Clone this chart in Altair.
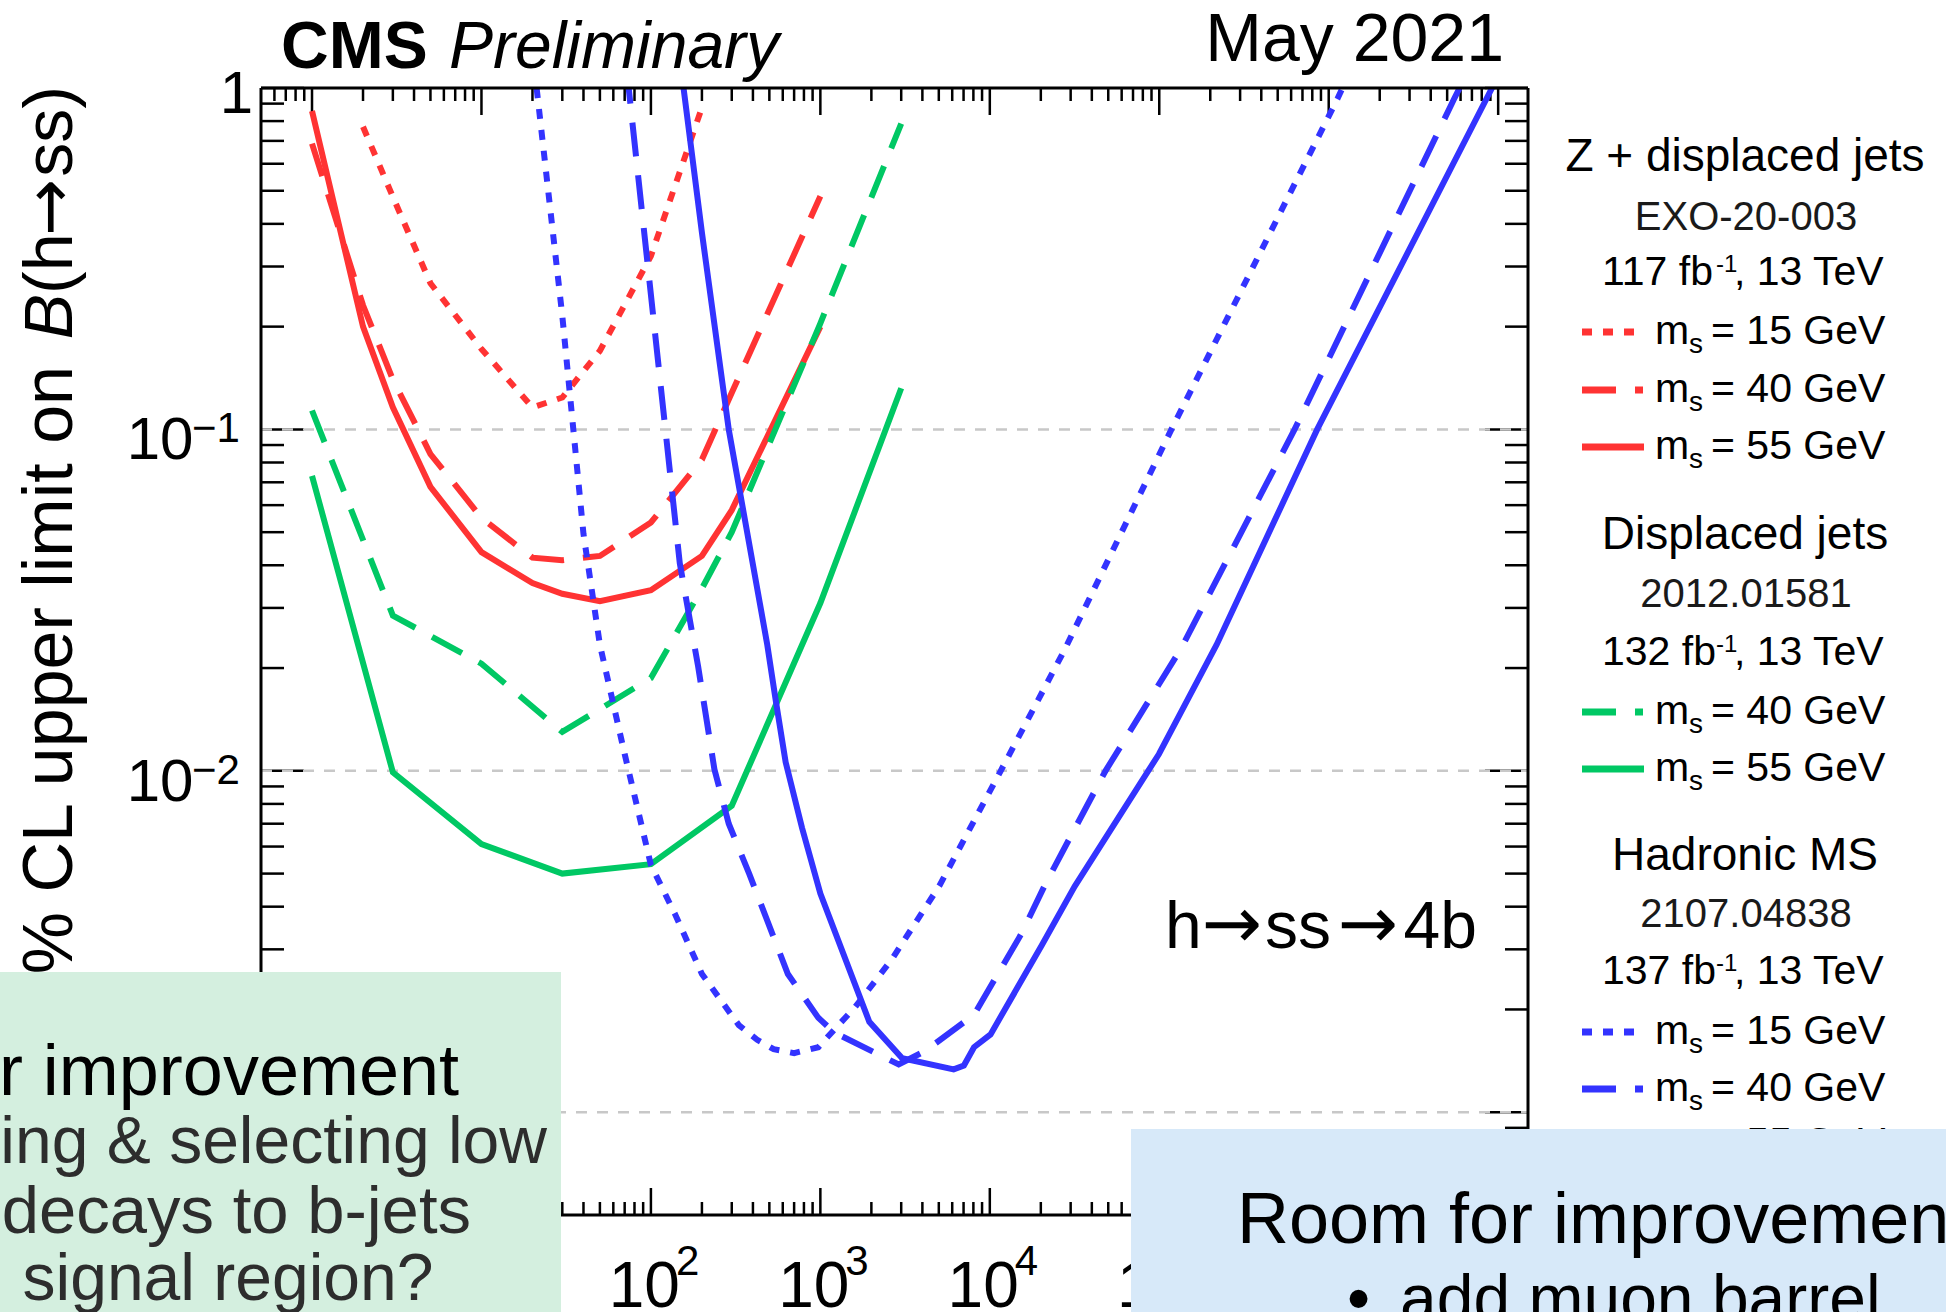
import altair as alt
import pandas as pd

# ---------------------------------------------------------------------------
# Expected 95% CL upper limits on B(h->ss) vs c*tau [mm], h->ss->4b
# ---------------------------------------------------------------------------

# Z + displaced jets (EXO-20-003)
zdj_m15_ctau = [2, 3, 5, 10, 20, 30, 50, 100, 200]
zdj_m15_lim = [0.77, 0.48, 0.268, 0.172, 0.116, 0.124, 0.170, 0.322, 0.877]
zdj_m40_ctau = [1, 2, 3, 5, 10, 20, 30, 50, 100, 200, 300, 1000]
zdj_m40_lim = [0.687, 0.231, 0.140, 0.0847, 0.0551, 0.0421, 0.0414, 0.0426, 0.0534, 0.0816, 0.128, 0.482]
zdj_m55_ctau = [1, 2, 3, 5, 10, 20, 30, 50, 100, 200, 300, 1000]
zdj_m55_lim = [0.856, 0.200, 0.116, 0.0679, 0.0437, 0.0355, 0.0330, 0.0314, 0.0338, 0.0426, 0.058, 0.200]

# Displaced jets (2012.01581)
dj_m40_ctau = [1, 3, 10, 30, 100, 200, 300, 1000, 3000]
dj_m40_lim = [0.1136, 0.0285, 0.0206, 0.0130, 0.0187, 0.0342, 0.050, 0.2045, 0.786]
dj_m55_ctau = [1, 3, 10, 30, 100, 300, 1000, 3000]
dj_m55_lim = [0.0731, 0.0099, 0.0061, 0.0050, 0.00533, 0.0079, 0.031, 0.132]

# Hadronic MS (2107.04838)
hms_m15_ctau = [20.5, 30, 40, 50, 70, 100, 140, 200, 330, 424, 530, 700, 973, 1214, 1601,
                2634, 5035, 11600, 27600, 118000, 1130000, 1250000]
hms_m15_lim = [1.15, 0.215, 0.0494, 0.0234, 0.0112, 0.0053, 0.00377, 0.00254, 0.0018, 0.00163,
               0.00153, 0.00149, 0.00155, 0.00175, 0.00203, 0.0028, 0.0046, 0.0100, 0.0226,
               0.100, 0.933, 1.04]
hms_m40_ctau = [72, 148, 190, 237, 288, 380, 643, 973, 1214, 2900, 4140, 8070, 15350, 21460,
                48200, 135000, 629000, 5500000, 6100000]
hms_m40_lim = [1.13, 0.0406, 0.0202, 0.0101, 0.0070, 0.0050, 0.00254, 0.00189, 0.00171, 0.00138,
               0.00151, 0.00193, 0.00333, 0.0047, 0.0100, 0.0229, 0.100, 0.93, 1.03]
hms_m55_ctau = [150, 200, 288, 486, 544, 624, 780, 1000, 1945, 3040, 6120, 7030, 8070, 10100,
                20300, 31700, 99600, 218000, 855000, 9200000, 9800000]
hms_m55_lim = [1.16, 0.377, 0.100, 0.0234, 0.0162, 0.0106, 0.0068, 0.00437, 0.00184, 0.00144,
               0.001335, 0.00137, 0.00155, 0.00169, 0.00309, 0.00459, 0.0112, 0.0234, 0.100,
               1.0, 1.06]

# axis ticks and labels
x_major = [1, 10, 100, 1e3, 1e4, 1e5, 1e6, 1e7]
x_major_sup = ["0", "1", "2", "3", "4", "5", "6", "7"]
x_minor = [k * 10.0 ** e for e in range(-1, 8) for k in range(2, 10) if 0.5 < k * 10.0 ** e < 1.5e7]
y_major = [0.1, 0.01, 0.001]
y_major_sup = ["\u22121", "\u22122", "\u22123"]
y_minor = [k * 10.0 ** e for e in range(-4, 0) for k in range(2, 10) if 5e-4 < k * 10.0 ** e < 1]

# ---------------------------------------------------------------------------
# page geometry: plot frame sits at (261, 88) with size W x H on a 1946x1312 page
# ---------------------------------------------------------------------------
PL, PT = 261, 88
W, H = 1267, 1127
PR, PB = 1946 - PL - W, 1312 - PT - H


def px(X):
    return X - PL


def py(Y):
    return Y - PT


FONT = "Liberation Sans"
ARROW_FONT = "DejaVu Sans"
RARROW = "\u2192"
RED, GREEN, BLUE = "#ff3333", "#00c864", "#3333ff"
DOT = [10, 11]
DASH = [34, 19]
GRID = "#c8c8c8"

xs = alt.Scale(type="log", domain=[0.5, 1.5e7], nice=False)
ys = alt.Scale(type="log", domain=[5e-4, 1], nice=False)
ONE = pd.DataFrame({"k": [0]})

layers = []


def text(s, X, Y, size, align="left", color="black", weight="normal", style="normal",
         angle=0, font=FONT):
    kw = dict(text=s, align=align, baseline="alphabetic", font=font, fontSize=size,
              color=color, fontWeight=weight, fontStyle=style)
    if angle:
        kw["angle"] = angle
    return alt.Chart(ONE).mark_text(**kw).encode(x=alt.value(px(X)), y=alt.value(py(Y)))


def hseg(X1, X2, Y, color, width, dash=None):
    kw = dict(color=color, strokeWidth=width)
    if dash:
        kw["strokeDash"] = dash
    return alt.Chart(ONE).mark_rule(**kw).encode(
        x=alt.value(px(X1)), x2=alt.value(px(X2)), y=alt.value(py(Y)))


def rect(X1, X2, Y1, Y2, color):
    return alt.Chart(ONE).mark_rect(color=color, opacity=1).encode(
        x=alt.value(px(X1)), x2=alt.value(px(X2)), y=alt.value(py(Y1)), y2=alt.value(py(Y2)))


# ---- ticks (inside the frame, on all four sides) --------------------------
def xticks(vals, length):
    df = pd.DataFrame({"v": vals})
    base = alt.Chart(df).mark_rule(color="black", strokeWidth=2.5)
    bottom = base.encode(x=alt.X("v:Q", scale=xs, axis=None), y=alt.value(H), y2=alt.value(H - length))
    top = base.encode(x=alt.X("v:Q", scale=xs, axis=None), y=alt.value(0), y2=alt.value(length))
    return [bottom, top]


def yticks(vals, length):
    df = pd.DataFrame({"v": vals})
    base = alt.Chart(df).mark_rule(color="black", strokeWidth=2.5)
    left = base.encode(y=alt.Y("v:Q", scale=ys, axis=None), x=alt.value(0), x2=alt.value(length))
    right = base.encode(y=alt.Y("v:Q", scale=ys, axis=None), x=alt.value(W), x2=alt.value(W - length))
    return [left, right]


layers += xticks(x_major, 27) + xticks(x_minor, 13)
layers += yticks(y_major + [1], 43) + yticks(y_minor, 23)

# ---- horizontal dashed grid at each decade --------------------------------
layers.append(
    alt.Chart(pd.DataFrame({"v": y_major})).mark_rule(color=GRID, strokeWidth=2.5, strokeDash=[11, 10])
    .encode(y=alt.Y("v:Q", scale=ys, axis=None), x=alt.value(0), x2=alt.value(W))
)

# ---- limit curves ---------------------------------------------------------
series = [
    (zdj_m15_ctau, zdj_m15_lim, RED, DOT),
    (zdj_m40_ctau, zdj_m40_lim, RED, DASH),
    (zdj_m55_ctau, zdj_m55_lim, RED, None),
    (dj_m40_ctau, dj_m40_lim, GREEN, DASH),
    (dj_m55_ctau, dj_m55_lim, GREEN, None),
    (hms_m15_ctau, hms_m15_lim, BLUE, DOT),
    (hms_m40_ctau, hms_m40_lim, BLUE, DASH),
    (hms_m55_ctau, hms_m55_lim, BLUE, None),
]
for cx, cy, col, dash in series:
    kw = dict(color=col, strokeWidth=6, clip=True)
    if dash:
        kw["strokeDash"] = dash
    layers.append(
        alt.Chart(pd.DataFrame({"ctau": cx, "limit": cy})).mark_line(**kw).encode(
            x=alt.X("ctau:Q", scale=xs, axis=None),
            y=alt.Y("limit:Q", scale=ys, axis=None),
            order="ctau:Q",
        )
    )

# ---- frame ----------------------------------------------------------------
frame = alt.Chart(ONE).mark_rule(color="black", strokeWidth=3)
layers += [
    frame.encode(x=alt.value(0), y=alt.value(0), y2=alt.value(H)),
    frame.encode(x=alt.value(W), y=alt.value(0), y2=alt.value(H)),
    frame.encode(x=alt.value(0), x2=alt.value(W), y=alt.value(0)),
    frame.encode(x=alt.value(0), x2=alt.value(W), y=alt.value(H)),
]

# ---- tick labels ------------------------------------------------------------
ylab = pd.DataFrame({"v": y_major, "sup": y_major_sup})
layers.append(
    alt.Chart(ylab).mark_text(text="10", align="right", baseline="alphabetic", font=FONT,
                              fontSize=60, dy=30)
    .encode(y=alt.Y("v:Q", scale=ys, axis=None), x=alt.value(-67.5))
)
layers.append(
    alt.Chart(ylab).mark_text(align="left", baseline="alphabetic", font=FONT, fontSize=42, dy=13)
    .encode(y=alt.Y("v:Q", scale=ys, axis=None), x=alt.value(-69), text="sup:N")
)
layers.append(
    alt.Chart(pd.DataFrame({"v": [1]})).mark_text(text="1", align="right", baseline="alphabetic",
                                                  font=FONT, fontSize=60, dy=25)
    .encode(y=alt.Y("v:Q", scale=ys, axis=None), x=alt.value(-8))
)
xlab = pd.DataFrame({"v": x_major, "sup": x_major_sup})
layers.append(
    alt.Chart(xlab).mark_text(text="10", align="right", baseline="alphabetic", font=FONT,
                              fontSize=64, dx=29)
    .encode(x=alt.X("v:Q", scale=xs, axis=None), y=alt.value(py(1307)))
)
layers.append(
    alt.Chart(xlab).mark_text(align="left", baseline="alphabetic", font=FONT, fontSize=42, dx=25)
    .encode(x=alt.X("v:Q", scale=xs, axis=None), y=alt.value(py(1275)), text="sup:N")
)

# ---- y-axis title (rotated, reads bottom to top) ----------------------------
YT_X = 71.7
layers += [
    text("95% CL upper limit on", YT_X, 366, 70, align="right", angle=270),
    text("B", YT_X, 294, 68, align="right", style="italic", angle=270),
    text("(h", YT_X, 294, 68, align="left", angle=270),
    text(RARROW, YT_X, 236, 68, align="left", angle=270, font=ARROW_FONT),
    text("ss)", YT_X, 86, 68, align="right", angle=270),
]

# ---- header -------------------------------------------------------------------
layers += [
    text("CMS", 281, 68, 66, weight="bold"),
    text("Preliminary", 449, 68, 66, style="italic"),
    text("May 2021", 1504, 61, 68, align="right"),
]

# process label h->ss->4b
layers += [
    text("h", 1165, 947.5, 66),
    text(RARROW, 1232, 947.5, 72, align="center", font=ARROW_FONT),
    text("ss", 1265, 947.5, 66),
    text(RARROW, 1368, 947.5, 72, align="center", font=ARROW_FONT),
    text("4b", 1477, 947.5, 66, align="right"),
]

# ---- legend (right of the frame) ------------------------------------------
LCX = 1745
groups = [
    ("Z + displaced jets", 171, "EXO-20-003", 230, "117", 285),
    ("Displaced jets", 549, "2012.01581", 607, "132", 665),
    ("Hadronic MS", 870, "2107.04838", 927, "137", 984),
]
for head, hy, ref, ry_, lumi, ly in groups:
    layers += [
        text(head, LCX, hy, 46, align="center"),
        text(ref, LCX + 1, ry_, 40, align="center", color="#1a1a1a"),
        text(lumi + " fb", 1602, ly, 41),
        text("-1", 1716, ly - 13, 24),
        text(", 13 TeV", 1734, ly, 41),
    ]

entries = [
    (344, "15", RED, DOT, 1635),
    (402, "40", RED, DASH, 1643),
    (459, "55", RED, None, 1644),
    (724, "40", GREEN, DASH, 1643),
    (781, "55", GREEN, None, 1644),
    (1044, "15", BLUE, DOT, 1635),
    (1101, "40", BLUE, DASH, 1643),
    (1156, "55", BLUE, None, 1644),
]
for base, mass, col, dash, xend in entries:
    layers += [
        hseg(1582, xend, base - 12, col, 7, dash),
        text("m", 1655, base, 41),
        text("s", 1689, base + 9, 28),
        text("= " + mass + " GeV", 1711, base, 41),
    ]

# ---- overlaid note boxes ------------------------------------------------------
layers += [
    rect(0, 561, 972, 1312, "#d4efdf"),
    rect(1131, 1946, 1129, 1312, "#d7e9f9"),
    text("Room for improvement", 459, 1095, 72, align="right"),
    text("ing & selecting low", 547, 1163, 66, align="right", color="#2d2d2d"),
    text("decays to b-jets", 471, 1233, 67, align="right", color="#2d2d2d"),
    text("signal region?", 228, 1300, 66, align="center", color="#2d2d2d"),
    text("Room for improvement", 1237, 1243, 72),
    text("\u2022", 1347, 1321, 66),
    text("add muon barrel", 1400, 1321, 66),
]

chart = (
    alt.layer(*layers)
    .properties(
        width=W,
        height=H,
        padding={"left": PL, "top": PT, "right": PR, "bottom": PB},
        autosize=alt.AutoSizeParams(type="none"),
        background="white",
    )
    .configure_view(stroke=None)
)

chart.save("out.html", embed_options={"renderer": "svg", "actions": False})
